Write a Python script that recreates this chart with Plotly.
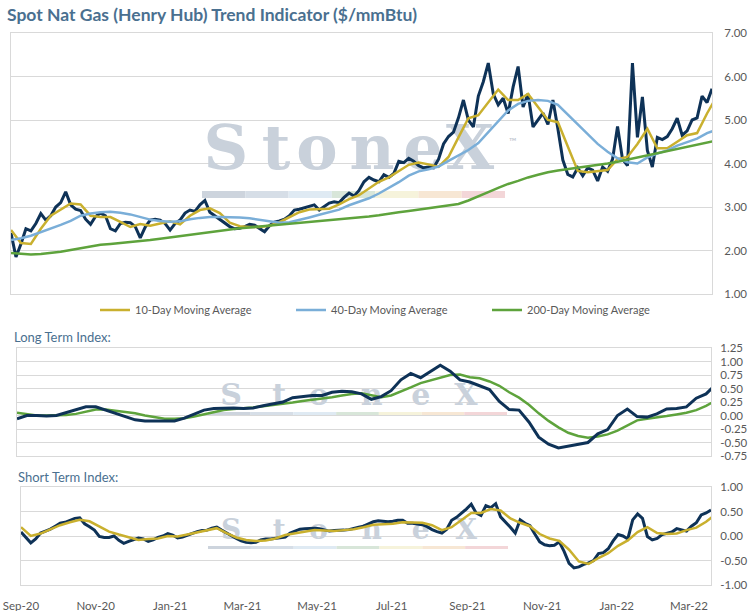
import pandas as pd
import plotly.graph_objects as go

# Sampling dates: spot price and short term index every 4 days,
# the smoother averages / signals every 8 days
price_dates = pd.date_range("2020-09-01", periods=142, freq="4D")
avg_dates = pd.date_range("2020-09-01", periods=72, freq="8D")

spot_price = [
    2.40, 1.85, 2.15, 2.50, 2.45, 2.62, 2.85, 2.70, 2.80, 3.00,
    3.10, 3.35, 3.05, 2.95, 2.92, 2.72, 2.60, 2.78, 2.86, 2.80,
    2.50, 2.45, 2.62, 2.65, 2.64, 2.55, 2.29, 2.54, 2.70, 2.72,
    2.70, 2.62, 2.47, 2.62, 2.70, 2.86, 2.93, 2.90, 3.05, 3.15,
    2.88, 2.80, 2.70, 2.64, 2.55, 2.50, 2.51, 2.55, 2.60, 2.58,
    2.50, 2.43, 2.57, 2.65, 2.68, 2.72, 2.80, 2.93, 2.95, 2.98,
    3.02, 3.05, 2.93, 3.00, 3.09, 3.12, 3.10, 3.22, 3.32, 3.25,
    3.38, 3.58, 3.68, 3.62, 3.58, 3.74, 3.68, 3.77, 4.05, 4.02,
    4.12, 4.05, 3.95, 3.90, 3.92, 3.90, 4.10, 4.45, 4.62, 4.72,
    5.05, 5.46, 5.00, 4.84, 5.55, 5.88, 6.31, 5.60, 5.35, 5.50,
    5.15, 5.76, 6.23, 5.30, 5.60, 4.84, 5.00, 5.16, 4.90, 5.46,
    4.80, 4.08, 3.75, 3.69, 3.90, 3.72, 3.90, 3.85, 3.60, 3.92,
    3.82, 4.10, 4.85, 4.10, 3.95, 6.31, 4.60, 5.53, 4.30, 3.92,
    4.60, 4.55, 4.62, 4.80, 5.04, 4.65, 4.75, 5.00, 5.05, 5.55,
    5.40, 5.72,
]

ma_10 = [
    2.47, 2.17, 2.15, 2.50, 2.80, 2.95, 3.08, 3.06, 2.80, 2.77,
    2.77, 2.66, 2.54, 2.61, 2.57, 2.62, 2.67, 2.60, 2.80, 2.93,
    2.97, 2.86, 2.64, 2.56, 2.54, 2.54, 2.57, 2.65, 2.76, 2.88,
    2.94, 2.95, 2.96, 3.06, 3.18, 3.27, 3.42, 3.58, 3.68, 3.82,
    3.97, 4.02, 3.98, 3.92, 4.15, 4.60, 5.04, 5.11, 5.40, 5.70,
    5.46, 5.46, 5.60, 5.30, 5.00, 4.95, 4.40, 3.83, 3.80, 3.83,
    3.85, 4.10, 4.15, 4.45, 4.80, 4.35, 4.35, 4.50, 4.65, 4.70,
    5.15, 5.55,
]

ma_40 = [
    2.24, 2.28, 2.34, 2.42, 2.50, 2.59, 2.68, 2.80, 2.85, 2.88,
    2.89, 2.87, 2.83, 2.77, 2.71, 2.68, 2.66, 2.67, 2.72, 2.75,
    2.77, 2.77, 2.77, 2.76, 2.74, 2.71, 2.67, 2.64, 2.65, 2.70,
    2.76, 2.82, 2.88, 2.94, 3.04, 3.12, 3.20, 3.31, 3.44, 3.57,
    3.72, 3.82, 3.87, 3.93, 4.06, 4.18, 4.31, 4.47, 4.72, 4.97,
    5.22, 5.37, 5.44, 5.46, 5.44, 5.35, 5.12, 4.90, 4.68, 4.45,
    4.27, 4.12, 4.03, 4.00, 4.14, 4.23, 4.30, 4.41, 4.49, 4.57,
    4.70, 4.78,
]

ma_200 = [
    1.94, 1.92, 1.91, 1.92, 1.94, 1.97, 2.01, 2.05, 2.09, 2.13,
    2.15, 2.17, 2.19, 2.21, 2.24, 2.27, 2.30, 2.33, 2.37, 2.40,
    2.43, 2.46, 2.49, 2.51, 2.53, 2.55, 2.57, 2.59, 2.61, 2.63,
    2.65, 2.67, 2.69, 2.71, 2.73, 2.75, 2.78, 2.81, 2.85, 2.88,
    2.91, 2.94, 2.97, 3.00, 3.03, 3.07, 3.15, 3.24, 3.34, 3.44,
    3.53, 3.60, 3.68, 3.74, 3.80, 3.84, 3.87, 3.90, 3.93, 3.96,
    4.00, 4.04, 4.09, 4.14, 4.18, 4.23, 4.28, 4.33, 4.38, 4.43,
    4.49, 4.53,
]

long_index = [
    -0.06, 0.00, 0.00, -0.01, 0.00, 0.05, 0.10, 0.16, 0.16, 0.10,
    0.04, -0.03, -0.08, -0.10, -0.10, -0.09, -0.10, -0.05, 0.03, 0.10,
    0.13, 0.14, 0.14, 0.13, 0.14, 0.18, 0.22, 0.25, 0.33, 0.35,
    0.37, 0.37, 0.43, 0.45, 0.44, 0.40, 0.30, 0.35, 0.46, 0.66,
    0.78, 0.70, 0.82, 0.93, 0.82, 0.66, 0.62, 0.55, 0.48, 0.26,
    0.11, 0.10, -0.12, -0.40, -0.53, -0.60, -0.57, -0.53, -0.50, -0.34,
    -0.26, 0.00, 0.12, -0.02, -0.03, 0.03, 0.12, 0.13, 0.16, 0.32,
    0.40, 0.58,
]

long_signal = [
    0.05, 0.02, 0.00, 0.00, 0.00, 0.01, 0.03, 0.07, 0.11, 0.11,
    0.09, 0.07, 0.04, 0.00, -0.03, -0.06, -0.06, -0.05, -0.02, 0.02,
    0.06, 0.10, 0.12, 0.13, 0.15, 0.17, 0.19, 0.21, 0.24, 0.27,
    0.29, 0.31, 0.34, 0.37, 0.40, 0.41, 0.38, 0.34, 0.37, 0.44,
    0.52, 0.60, 0.65, 0.70, 0.75, 0.76, 0.71, 0.69, 0.63, 0.55,
    0.43, 0.33, 0.20, 0.04, -0.10, -0.22, -0.32, -0.38, -0.41, -0.39,
    -0.35, -0.28, -0.18, -0.09, -0.06, -0.04, -0.01, 0.02, 0.05, 0.10,
    0.18, 0.28,
]

short_index = [
    0.08, -0.03, -0.14, -0.06, 0.06, 0.10, 0.14, 0.20, 0.26, 0.28,
    0.32, 0.36, 0.37, 0.25, 0.19, 0.12, -0.01, -0.03, -0.03, 0.00,
    -0.09, -0.15, -0.11, -0.07, -0.04, -0.06, -0.11, -0.08, -0.03, 0.00,
    0.05, 0.02, -0.04, -0.02, 0.02, 0.05, 0.09, 0.11, 0.12, 0.16,
    0.18, 0.12, 0.06, 0.01, -0.05, -0.10, -0.13, -0.14, -0.13, -0.08,
    -0.06, -0.06, -0.05, -0.03, -0.02, 0.06, 0.10, 0.14, 0.15, 0.16,
    0.16, 0.15, 0.12, 0.10, 0.11, 0.11, 0.12, 0.13, 0.16, 0.18,
    0.20, 0.24, 0.29, 0.31, 0.30, 0.29, 0.30, 0.32, 0.32, 0.26,
    0.26, 0.25, 0.23, 0.19, 0.13, 0.09, 0.06, 0.14, 0.32, 0.38,
    0.46, 0.55, 0.65, 0.47, 0.42, 0.62, 0.58, 0.66, 0.39, 0.29,
    0.18, 0.06, 0.33, 0.26, 0.21, 0.04, -0.12, -0.18, -0.20, -0.19,
    -0.12, -0.32, -0.56, -0.65, -0.63, -0.58, -0.55, -0.50, -0.36, -0.34,
    -0.26, -0.10, 0.03, 0.00, -0.06, 0.33, 0.45, 0.36, -0.01, -0.08,
    -0.05, 0.03, 0.05, 0.08, 0.15, 0.13, 0.10, 0.20, 0.27, 0.43,
    0.47, 0.53,
]

short_signal = [
    0.18, 0.00, 0.05, 0.14, 0.22, 0.28, 0.33, 0.30, 0.20, 0.09,
    0.03, -0.03, -0.08, -0.06, -0.05, 0.00, -0.01, 0.03, 0.07, 0.12,
    0.16, 0.06, -0.03, -0.08, -0.10, -0.09, -0.05, 0.02, 0.05, 0.09,
    0.12, 0.11, 0.10, 0.12, 0.14, 0.18, 0.23, 0.24, 0.25, 0.28,
    0.28, 0.27, 0.22, 0.12, 0.18, 0.32, 0.47, 0.47, 0.55, 0.52,
    0.36, 0.27, 0.20, 0.04, -0.05, -0.10, -0.28, -0.52, -0.57, -0.45,
    -0.35, -0.20, -0.09, 0.08, 0.18, 0.06, 0.04, 0.05, 0.12, 0.17,
    0.29, 0.45,
]

tick_dates = ["2020-09-01", "2020-11-01", "2021-01-01", "2021-03-01", "2021-05-01",
              "2021-07-01", "2021-09-01", "2021-11-01", "2022-01-01", "2022-03-01"]
tick_labels = ["Sep-20", "Nov-20", "Jan-21", "Mar-21", "May-21",
               "Jul-21", "Sep-21", "Nov-21", "Jan-22", "Mar-22"]

price_ticks = [1, 2, 3, 4, 5, 6, 7]
price_tick_labels = ["1.00", "2.00", "3.00", "4.00", "5.00", "6.00", "7.00"]
long_ticks = [-0.75, -0.5, -0.25, 0, 0.25, 0.5, 0.75, 1.0, 1.25]
long_tick_labels = ["-0.75", "-0.50", "-0.25", "0.00", "0.25", "0.50", "0.75", "1.00", "1.25"]
short_ticks = [-1, -0.5, 0, 0.5, 1]
short_tick_labels = ["-1.00", "-0.50", "0.00", "0.50", "1.00"]

# Colours
NAVY = "#0e3257"
GOLD = "#c9b02e"
LIGHT_BLUE = "#7aaed8"
GREEN = "#5ea33c"
GRID = "#d9d9d9"
TEXT = "#595959"
LABEL_BLUE = "#4a7090"
WM_COLOR = "#c9d1db"
WM_BAR_COLORS = ["#cdd4dd", "#d6dee7", "#dfeaf3", "#d8e6d9", "#f6f3db", "#f7e7d4", "#f3d6d8"]

X_START = pd.Timestamp("2020-09-01")
X_END = pd.Timestamp("2022-03-19")
W, H = 756, 611
FONT = "Lato"

# plot area pixel boxes of the three panels (left, width)
axis_left = {"x": 11, "x2": 17, "x3": 21}
axis_width = {"x": 701, "x2": 694, "x3": 690}


def px_x(p):
    return p / W


def px_y(p):
    return 1 - p / H


def add_watermark(fig, xa, ya, left_px, width_px, y_val, size):
    """StoneX logo text, spread letter by letter, drawn underneath the data"""
    letters = ["S", "t", "o", "n", "e", "X"]
    centers = [226, 276, 317, 372, 423, 470]   # letter centres on the top panel (px)
    span = X_END - X_START
    xs = []
    for c in centers:
        p = left_px + (c - 202) * width_px / 295
        xs.append(X_START + span * ((p - axis_left[xa]) / axis_width[xa]))
    fig.add_trace(go.Scatter(
        x=xs, y=[y_val] * len(letters), mode="text", text=letters,
        textfont=dict(family="DejaVu Serif", size=size, color=WM_COLOR, weight="bold"),
        hoverinfo="skip", showlegend=False, xaxis=xa, yaxis=ya,
    ))


def add_bar(shapes, left_px, right_px, top_px, bottom_px):
    step = (right_px - left_px) / len(WM_BAR_COLORS)
    for i, c in enumerate(WM_BAR_COLORS):
        shapes.append(dict(
            type="rect", xref="paper", yref="paper", layer="below",
            x0=px_x(left_px + i * step), x1=px_x(left_px + (i + 1) * step),
            y0=px_y(bottom_px), y1=px_y(top_px),
            fillcolor=c, line=dict(width=0),
        ))


def main():
    fig = go.Figure()

    # --- top panel: spot price and moving averages
    add_watermark(fig, "x", "y", 202, 295, 4.22, 62)
    fig.add_trace(go.Scatter(x=price_dates, y=spot_price, mode="lines",
                             line=dict(color=NAVY, width=3), showlegend=False,
                             xaxis="x", yaxis="y"))
    fig.add_trace(go.Scatter(x=avg_dates, y=ma_10, mode="lines", name="10-Day Moving Average",
                             line=dict(color=GOLD, width=2.5), xaxis="x", yaxis="y"))
    fig.add_trace(go.Scatter(x=avg_dates, y=ma_40, mode="lines", name="40-Day Moving Average",
                             line=dict(color=LIGHT_BLUE, width=2.5), xaxis="x", yaxis="y"))
    fig.add_trace(go.Scatter(x=avg_dates, y=ma_200, mode="lines", name="200-Day Moving Average",
                             line=dict(color=GREEN, width=2.5), xaxis="x", yaxis="y"))

    # --- long term index
    add_watermark(fig, "x2", "y2", 208, 284, 0.33, 30)
    fig.add_trace(go.Scatter(x=avg_dates, y=long_signal, mode="lines",
                             line=dict(color=GREEN, width=2.5), showlegend=False,
                             xaxis="x2", yaxis="y2"))
    fig.add_trace(go.Scatter(x=avg_dates, y=long_index, mode="lines",
                             line=dict(color=NAVY, width=3), showlegend=False,
                             xaxis="x2", yaxis="y2"))

    # --- short term index
    add_watermark(fig, "x3", "y3", 208, 284, 0.09, 28)
    fig.add_trace(go.Scatter(x=price_dates, y=short_index, mode="lines",
                             line=dict(color=NAVY, width=3), showlegend=False,
                             xaxis="x3", yaxis="y3"))
    fig.add_trace(go.Scatter(x=avg_dates, y=short_signal, mode="lines",
                             line=dict(color=GOLD, width=2.5), showlegend=False,
                             xaxis="x3", yaxis="y3"))

    shapes = []
    add_bar(shapes, 202, 505, 191, 198)
    add_bar(shapes, 208, 507, 412, 415)
    add_bar(shapes, 208, 508, 546, 549)

    xbase = dict(range=[X_START, X_END], showgrid=False, zeroline=False, automargin=False,
                 showline=True, mirror=True, linecolor=GRID, linewidth=1, ticks="")
    ybase = dict(side="right", showgrid=True, gridcolor=GRID, gridwidth=1, zeroline=False,
                 showline=True, mirror=True, linecolor=GRID, linewidth=1, ticks="",
                 automargin=False, ticklabelstandoff=9,
                 tickfont=dict(family=FONT, size=11.5, color=TEXT))

    fig.update_layout(
        width=W, height=H,
        margin=dict(l=0, r=0, t=0, b=0, autoexpand=False),
        paper_bgcolor="white",
        plot_bgcolor="rgba(0,0,0,0)",
        font=dict(family=FONT, color=TEXT),
        xaxis=dict(xbase, domain=[px_x(11), px_x(712)], anchor="y", showticklabels=False),
        yaxis=dict(ybase, domain=[px_y(294), px_y(33)], anchor="x", range=[1, 7],
                   tickvals=price_ticks, ticktext=price_tick_labels),
        xaxis2=dict(xbase, domain=[px_x(17), px_x(711)], anchor="y2", showticklabels=False),
        yaxis2=dict(ybase, domain=[px_y(456), px_y(348)], anchor="x2", range=[-0.75, 1.25],
                    tickvals=long_ticks, ticktext=long_tick_labels, ticklabelstandoff=6),
        xaxis3=dict(xbase, domain=[px_x(21), px_x(711)], anchor="y3",
                    tickvals=tick_dates, ticktext=tick_labels, ticklabelstandoff=10,
                    tickfont=dict(family=FONT, size=11.5, color=TEXT)),
        yaxis3=dict(ybase, domain=[px_y(585), px_y(487)], anchor="x3", range=[-1, 1],
                    tickvals=short_ticks, ticktext=short_tick_labels, ticklabelstandoff=6),
        legend=dict(orientation="h", x=px_x(95), xanchor="left", y=px_y(310), yanchor="middle",
                    entrywidth=151, itemwidth=30, bgcolor="rgba(0,0,0,0)",
                    font=dict(family=FONT, size=11, color=TEXT)),
        shapes=shapes,
        annotations=[
            dict(text="<b>Spot Nat Gas (Henry Hub) Trend Indicator ($/mmBtu)</b>",
                 xref="paper", yref="paper", x=px_x(5), y=px_y(14),
                 xanchor="left", yanchor="middle", showarrow=False,
                 font=dict(family=FONT, size=17.5, color=LABEL_BLUE)),
            dict(text="Long Term Index:", xref="paper", yref="paper",
                 x=px_x(12), y=px_y(337), xanchor="left", yanchor="middle", showarrow=False,
                 font=dict(family=FONT, size=13, color=LABEL_BLUE)),
            dict(text="Short Term Index:", xref="paper", yref="paper",
                 x=px_x(16), y=px_y(477), xanchor="left", yanchor="middle", showarrow=False,
                 font=dict(family=FONT, size=13, color=LABEL_BLUE)),
            dict(text="™", xref="paper", yref="paper", x=px_x(507), y=px_y(141),
                 xanchor="left", yanchor="middle", showarrow=False,
                 font=dict(family=FONT, size=10, color="#bcc4cd")),
        ],
    )

    # page margin off so the 756x611 figure fills the window exactly
    fig.write_html("out.html", config={"displayModeBar": False},
                   post_script="document.body.style.margin='0';")


if __name__ == "__main__":
    main()
